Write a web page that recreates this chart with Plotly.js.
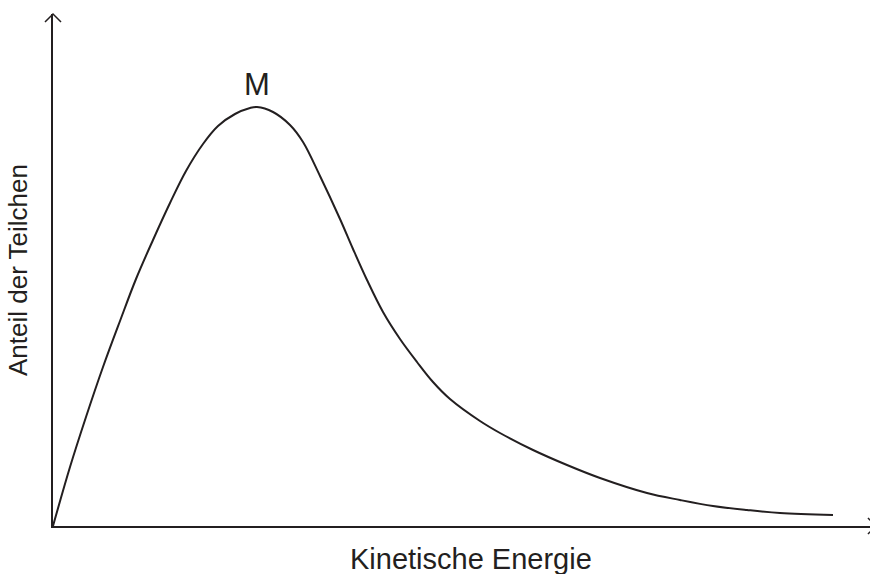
<!DOCTYPE html>
<html>
<head>
<meta charset="utf-8">
<script src="https://cdn.plot.ly/plotly-3.0.1.min.js"></script>
<style>html,body{margin:0;padding:0;background:#fff;overflow:hidden;}#chart{width:870px;height:574px;}</style>
</head>
<body>
<div id="chart"></div>
<script>
// Kinetic energy (arbitrary units) and fraction of particles (arbitrary units)
const energy   = [0, 0.17, 0.33, 0.50, 0.67, 0.83, 1.00, 1.17, 1.33, 1.50, 1.65, 1.82, 1.97, 2.04, 2.20, 2.37, 2.50, 2.67, 2.87, 3.00, 3.14, 3.30, 3.47, 3.64, 3.80, 3.97, 4.27, 4.47, 4.80, 5.14, 5.47, 5.94, 6.27, 6.60, 6.94, 7.27, 7.80];
const fraction = [0, 0.59, 1.09, 1.59, 2.05, 2.47, 2.86, 3.23, 3.55, 3.82, 4.00, 4.12, 4.18, 4.19, 4.14, 4.01, 3.84, 3.50, 3.07, 2.77, 2.46, 2.14, 1.87, 1.64, 1.44, 1.27, 1.05, 0.93, 0.76, 0.61, 0.48, 0.33, 0.26, 0.20, 0.16, 0.13, 0.11];
const peakLabel = "M";
const xTitle = "Kinetische Energie";
const yTitle = "Anteil der Teilchen";

const ink = "#231f20";
const font = "Liberation Sans, Arial, sans-serif";

// locate peak from data
let peakIdx = 0;
fraction.forEach((v, i) => { if (v > fraction[peakIdx]) peakIdx = i; });

const trace = {
  x: energy, y: fraction, type: "scatter", mode: "lines",
  line: {color: ink, width: 2, shape: "spline", smoothing: 1},
  hoverinfo: "skip", showlegend: false
};

const layout = {
  width: 870, height: 574,
  margin: {l: 53, r: 0, t: 14, b: 48},
  paper_bgcolor: "#fff", plot_bgcolor: "#fff",
  font: {family: font, color: ink},
  xaxis: {
    range: [0, 8.17], showgrid: false, zeroline: false, showticklabels: false, ticks: "",
    showline: true, linecolor: ink, linewidth: 2
  },
  yaxis: {
    range: [0, 5.12], showgrid: false, zeroline: false, showticklabels: false, ticks: "",
    showline: true, linecolor: ink, linewidth: 2,
    title: {text: yTitle, font: {size: 26, color: ink, family: font}, standoff: 16}
  },
  annotations: [
    {x: energy[peakIdx], y: fraction[peakIdx], xref: "x", yref: "y",
     text: peakLabel, showarrow: false, yanchor: "middle", xanchor: "center", yshift: 23,
     font: {size: 31, color: ink, family: font}},
    {x: 0.5116, y: -0.0645, xref: "paper", yref: "paper",
     text: xTitle, showarrow: false, xanchor: "center", yanchor: "middle",
     font: {size: 29, color: ink, family: font}}
  ],
  shapes: [
    {type: "path", xref: "paper", yref: "paper",
     path: "M -0.0098 0.9844 L 0 1 L 0.0098 0.9844", line: {color: ink, width: 1.5}},
    {type: "path", xref: "paper", yref: "paper",
     path: "M 0.9975 0.0156 L 1.0073 0 L 0.9975 -0.0156", line: {color: ink, width: 1.5}}
  ]
};

Plotly.newPlot("chart", [trace], layout, {displayModeBar: false, staticPlot: true});
</script>
</body>
</html>
